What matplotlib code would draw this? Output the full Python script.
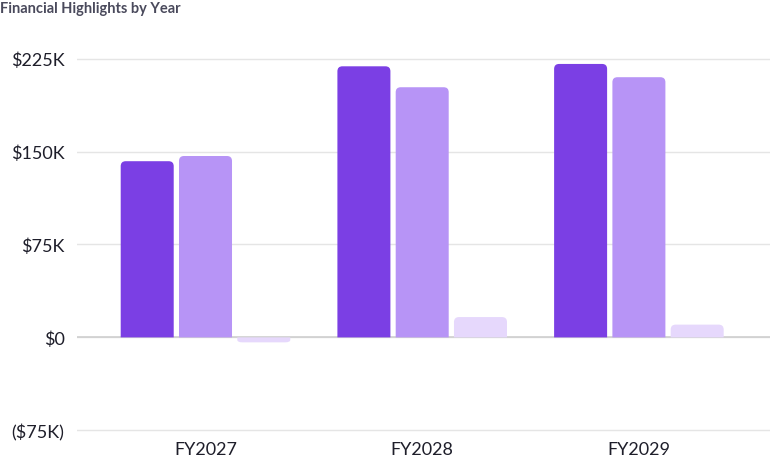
import matplotlib.pyplot as plt
from matplotlib.patches import PathPatch
from matplotlib.path import Path
from matplotlib.ticker import FuncFormatter

plt.rcParams['font.family'] = ['Lato', 'DejaVu Sans']

years = ['FY2027', 'FY2028', 'FY2029']
series_a = [142.2, 218.8, 220.7]   # $K
series_b = [146.4, 201.9, 210.0]
series_c = [-4.0, 16.4, 10.3]
colors = ['#7B3FE4', '#B794F6', '#E6D8FC']

fig = plt.figure(figsize=(7.7, 4.77), dpi=100)
ax = fig.add_axes([0.1, 0.088, 0.9, 0.8])

ax.set_xlim(-0.593, 2.605)
ax.set_ylim(-78, 230)

# pixel scale, used for rounded corners
bbox = ax.get_position()
px_x = (bbox.width * 770) / (2.605 + 0.593)
px_y = (bbox.height * 477) / (230 + 78)


def rounded_bar(x0, w, v, color):
    # bar from 0 to v, rounded only at the far end
    s = 1 if v >= 0 else -1
    rx = min(5 / px_x, w / 2)
    ry = min(5 / px_y, abs(v) / 2)
    x1 = x0 + w
    verts = [(x0, 0), (x0, v - s * ry), (x0, v), (x0 + rx, v),
             (x1 - rx, v), (x1, v), (x1, v - s * ry), (x1, 0), (x0, 0)]
    codes = [Path.MOVETO, Path.LINETO, Path.CURVE3, Path.CURVE3,
             Path.LINETO, Path.CURVE3, Path.CURVE3, Path.LINETO, Path.CLOSEPOLY]
    ax.add_patch(PathPatch(Path(verts, codes), fc=color, ec='none', zorder=3))


width = 0.2446
step = 0.269
for i, vals in enumerate([series_a, series_b, series_c]):
    for j, v in enumerate(vals):
        rounded_bar(j + (i - 1) * step - width / 2, width, v, colors[i])

ax.set_yticks([-75, 0, 75, 150, 225])
ax.yaxis.set_major_formatter(FuncFormatter(
    lambda v, p: '$0' if v == 0 else (f'${v:.0f}K' if v > 0 else f'(${-v:.0f}K)')))
ax.set_xticks(range(len(years)))
ax.set_xticklabels(years)

ax.grid(axis='y', color='#e5e5e5', lw=1, zorder=0)
ax.axhline(0, color='#cfcfcf', lw=1.2, zorder=2)
ax.tick_params(axis='y', length=0, pad=9, labelsize=13, labelcolor='#1e1e2a')
ax.tick_params(axis='x', length=0, pad=5, labelsize=13, labelcolor='#1e1e2a')
for s in ax.spines.values():
    s.set_visible(False)

fig.text(0.0, 0.981, 'Financial Highlights by Year', fontsize=10.5, fontweight='bold',
         color='#4a4a5c', va='center', ha='left')

fig.savefig('out.png', dpi=100)
